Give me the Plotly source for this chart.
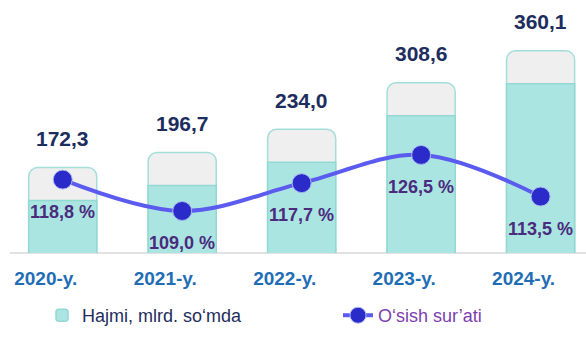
import plotly.graph_objects as go

years = ["2020-y.", "2021-y.", "2022-y.", "2023-y.", "2024-y."]
volume = [172.3, 196.7, 234.0, 308.6, 360.1]          # Hajmi, mlrd. so'mda
growth = [118.8, 109.0, 117.7, 126.5, 113.5]          # O'sish sur'ati, %
volume_labels = ["172,3", "196,7", "234,0", "308,6", "360,1"]
growth_labels = ["118,8 %", "109,0 %", "117,7 %", "126,5 %", "113,5 %"]

FONT = "Arial, Liberation Sans, sans-serif"
CAP = 53  # decorative light cap height (data units) on top of each bar

fig = go.Figure()

# full bar (light grey cap with cyan border)
fig.add_trace(go.Bar(
    x=years, y=volume, width=0.57,
    marker=dict(color="#efefef", line=dict(color="#a3dedb", width=1.5), cornerradius=9),
    showlegend=False, hoverinfo="skip",
))
# cyan liquid part
fig.add_trace(go.Bar(
    x=years, y=[v - CAP for v in volume], width=0.57,
    marker=dict(color="#abe5e1", line=dict(color="#93d8d3", width=1.5), cornerradius=14),
    name="Hajmi, mlrd. so‘mda", hoverinfo="skip", legend="legend",
))
# growth line
fig.add_trace(go.Scatter(
    x=years, y=growth, yaxis="y2", mode="lines+markers",
    line=dict(color="#5b5bef", width=4, shape="spline", smoothing=1.0),
    marker=dict(size=19, color="#2b2bc9", line=dict(color="#a9b8f0", width=1)),
    name="<span style='color:#7b3fae'>O‘sish sur’ati</span>", hoverinfo="skip",
    legend="legend2",
))

annotations = []
for yr, v, lab in zip(years, volume, volume_labels):
    annotations.append(dict(x=yr, y=v, xref="x", yref="y", text=lab, showarrow=False,
                            yshift=29, font=dict(family=FONT, size=21, color="#1c2d5e", weight="bold")))
for yr, g, lab in zip(years, growth, growth_labels):
    annotations.append(dict(x=yr, y=g, xref="x", yref="y2", text=lab, showarrow=False,
                            yshift=-32, font=dict(family=FONT, size=18, color="#4a2b7e", weight="bold")))

legend_common = dict(orientation="h", xanchor="left", y=-0.174, yanchor="top",
                     font=dict(family=FONT, size=18, color="#1f2d5c"),
                     bgcolor="rgba(0,0,0,0)")

fig.update_layout(
    width=586, height=352,
    margin=dict(l=3, r=0, t=0, b=99, autoexpand=False),
    paper_bgcolor="white", plot_bgcolor="white",
    barmode="overlay",
    font=dict(family=FONT, color="#1f2d5c"),
    xaxis=dict(range=[-0.5, 4.38], showgrid=False, zeroline=False, showline=False,
               ticks="", ticklabelshift=-17, ticklabelstandoff=12,
               tickfont=dict(family=FONT, size=19, color="#1f6db5", weight="bold")),
    yaxis=dict(range=[35, 441.8], visible=False, showgrid=False, zeroline=False),
    yaxis2=dict(range=[95.875, 174.9], overlaying="y", visible=False, showgrid=False, zeroline=False),
    legend=dict(x=(42 - 3) / 583, **legend_common),
    legend2=dict(x=(338 - 3) / 583, **legend_common),
    annotations=annotations,
    shapes=[dict(type="line", xref="paper", yref="paper", x0=(10 - 3) / 583, x1=1, y0=0, y1=0,
                 line=dict(color="#d9d9d9", width=1.5), layer="below")],
    hovermode=False,
)

fig.write_html("out.html")
